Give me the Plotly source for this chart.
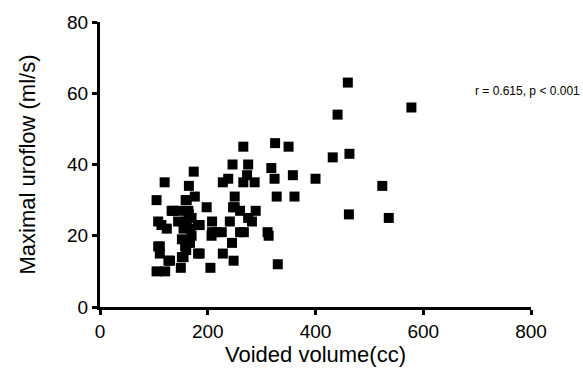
import plotly.graph_objects as go

voided_volume = [
    460, 578, 441, 432, 463, 400, 524, 462, 536,
    266, 325, 350, 246, 275, 318, 273, 238, 228, 266, 287, 324, 358,
    250, 328, 361, 198, 247, 260, 289, 208, 241, 275, 282, 185, 208,
    226, 260, 267, 311, 313, 207, 245, 185, 228, 248, 205, 330,
    174, 120, 165, 105, 161, 176, 136, 148, 164, 108, 114, 124, 145,
    161, 170, 182, 155, 170, 152, 111, 111, 158, 182, 152, 130, 105,
    121, 150, 216, 167, 155, 159, 250, 133, 108, 127, 165, 168, 160,
]
max_uroflow = [
    63, 56, 54, 42, 43, 36, 34, 26, 25,
    45, 46, 45, 40, 40, 39, 37, 36, 35, 35, 35, 36, 37,
    31, 31, 31, 28, 28, 27, 27, 24, 24, 25, 24, 23, 21,
    21, 21, 21, 21, 20, 20, 18, 15, 15, 13, 11, 12,
    38, 35, 34, 30, 30, 31, 27, 27, 27, 24, 23, 22, 24,
    24, 25, 23, 22, 20, 19, 17, 15, 17, 15, 14, 13, 10,
    10, 11, 21, 18, 14, 30, 28, 27, 17, 13, 26, 22, 16,
]

x_ticks = [0, 200, 400, 600, 800]
y_ticks = [0, 20, 40, 60, 80]
annotation_text = "r = 0.615, p < 0.001"

FONT = "Liberation Sans, Arial"

fig = go.Figure()
fig.add_trace(go.Scatter(
    x=voided_volume, y=max_uroflow, mode="markers",
    marker=dict(symbol="square", size=10, color="black", line=dict(width=0)),
    showlegend=False, cliponaxis=False,
))

axis_common = dict(
    showline=True, linecolor="black", linewidth=3,
    ticks="outside", ticklen=5, tickwidth=3, tickcolor="black",
    showgrid=False, zeroline=False,
    tickfont=dict(family=FONT, size=19, color="black"),
)

fig.update_xaxes(range=[0, 800], tickvals=x_ticks, title_text="Voided volume(cc)",
                 title_font=dict(family=FONT, size=22, color="black"),
                 title_standoff=0, **axis_common)
fig.update_yaxes(range=[0, 80], tickvals=y_ticks, title_text="Maximal uroflow (ml/s)",
                 title_font=dict(family=FONT, size=22, color="black"),
                 title_standoff=26, **axis_common)

fig.add_annotation(text=annotation_text, xref="paper", yref="paper",
                   x=1.118, y=0.757, xanchor="right", yanchor="middle",
                   showarrow=False,
                   font=dict(family=FONT, size=12, color="black"))

fig.update_layout(
    width=583, height=369,
    margin=dict(l=100, r=52, t=20, b=61),
    plot_bgcolor="white", paper_bgcolor="white",
)

fig.write_html("out.html")
